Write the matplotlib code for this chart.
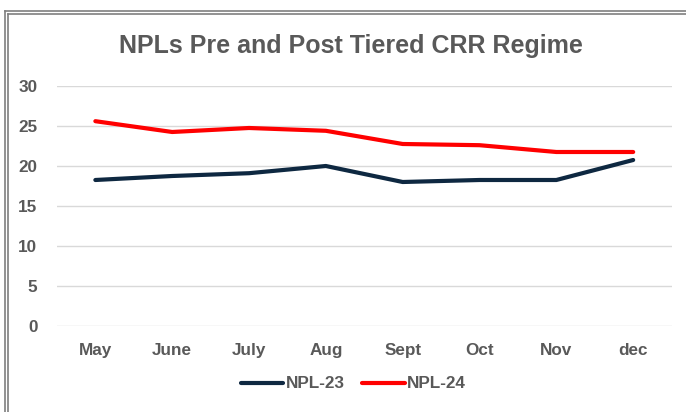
import matplotlib.pyplot as plt
from matplotlib.lines import Line2D

months = ['May', 'June', 'July', 'Aug', 'Sept', 'Oct', 'Nov', 'dec']
npl_23 = [18.25, 18.75, 19.1, 20.0, 18.0, 18.25, 18.25, 20.75]
npl_24 = [25.6, 24.25, 24.75, 24.4, 22.75, 22.6, 21.75, 21.75]

plt.rcParams['font.family'] = ['Liberation Sans', 'DejaVu Sans']

fig = plt.figure(figsize=(6.86, 4.12), dpi=100)
ax = fig.add_axes([0.083, 0.2087, 0.896, 0.5826])

x = range(len(months))
ax.plot(x, npl_23, color='#0E2841', lw=3, label='NPL-23', solid_capstyle='round')
ax.plot(x, npl_24, color='#FF0000', lw=3, label='NPL-24', solid_capstyle='round')

ax.set_xlim(-0.5, len(months) - 0.5)
ax.set_ylim(0, 30)
ax.set_yticks(range(0, 31, 5))
ax.set_xticks(list(x))
ax.set_xticklabels(months)
ax.grid(axis='y', color='#D9D9D9', lw=1)
ax.set_axisbelow(True)
for s in ax.spines.values():
    s.set_visible(False)
ax.tick_params(length=0, labelsize=12.3, labelcolor='#595959')
ax.tick_params(axis='y', pad=14)
ax.tick_params(axis='x', pad=12)
for lab in ax.get_xticklabels() + ax.get_yticklabels():
    lab.set_fontweight('bold')

fig.text(0.512, 0.888, 'NPLs Pre and Post Tiered CRR Regime', ha='center', va='center',
         fontsize=18, fontweight='bold', color='#595959')

ax.legend(loc='center', bbox_to_anchor=(0.515, 0.068), bbox_transform=fig.transFigure,
          ncol=2, frameon=False, handlelength=2.5, handletextpad=0.15,
          columnspacing=1.0, prop={'weight': 'bold', 'size': 12.3})
for t in ax.get_legend().get_texts():
    t.set_color('#595959')

# double frame round the chart
for off in [0, 3]:
    fig.add_artist(Line2D([(5 + off) / 686, 1], [1 - (11 + off) / 412, 1 - (11 + off) / 412],
                          transform=fig.transFigure, color='#7F7F7F', lw=1.2))
    fig.add_artist(Line2D([(5 + off) / 686, (5 + off) / 686], [0, 1 - (11 + off) / 412],
                          transform=fig.transFigure, color='#7F7F7F', lw=1.2))

fig.savefig('out.png', dpi=100)
